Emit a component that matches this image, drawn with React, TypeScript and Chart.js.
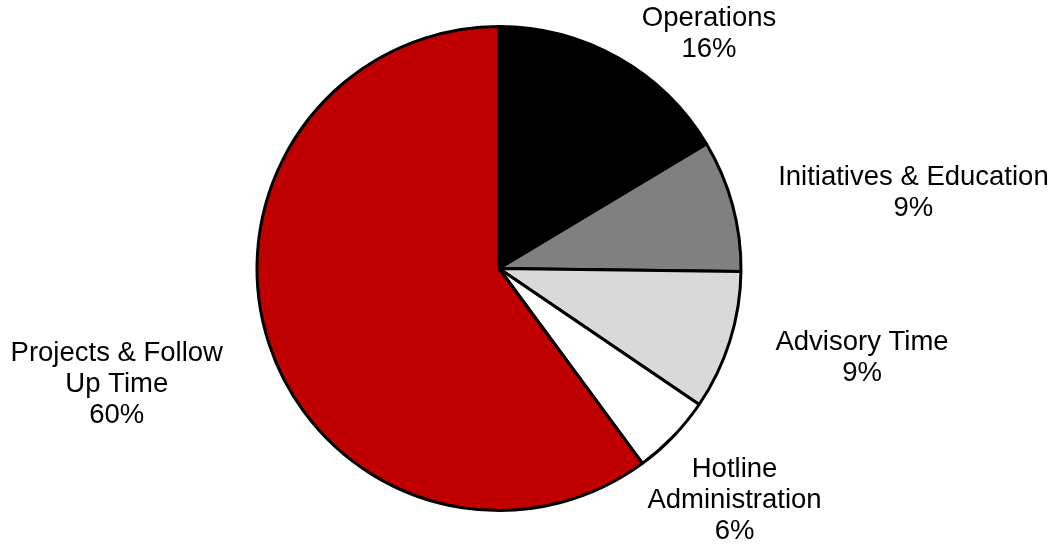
import React, { useEffect, useRef } from "react";
import { Chart, registerables } from "chart.js";

Chart.register(...registerables);

// ---- data ----
const categoryLines: string[][] = [
  ["Operations"],
  ["Initiatives & Education"],
  ["Advisory Time"],
  ["Hotline", "Administration"],
  ["Projects & Follow", "Up Time"],
];
const shares: number[] = [16.4, 8.8, 9.3, 5.4, 60.1];
const percentLabels: string[] = ["16%", "9%", "9%", "6%", "60%"];
const sliceColors: string[] = ["#000000", "#808080", "#D9D9D9", "#FFFFFF", "#C00000"];

const outsideLabels = {
  id: "outsideLabels",
  afterDatasetsDraw(chart: any, _args: any, opts: any) {
    const { ctx } = chart;
    const meta = chart.getDatasetMeta(0);
    ctx.save();
    ctx.font = `${opts.size}px ${opts.family}`;
    ctx.fillStyle = opts.color;
    ctx.textAlign = "center";
    ctx.textBaseline = "middle";
    meta.data.forEach((el: any, i: number) => {
      const { x, y, startAngle, endAngle, outerRadius } = el.getProps(
        ["x", "y", "startAngle", "endAngle", "outerRadius"],
        true
      );
      const mid = (startAngle + endAngle) / 2;
      const ux = Math.cos(mid);
      const uy = Math.sin(mid);
      const lines = [...categoryLines[i], percentLabels[i]];
      const w = Math.max(...lines.map((l) => ctx.measureText(l).width));
      const h = lines.length * opts.lineHeight;
      const r = outerRadius + opts.gap;
      let cx = x + ux * r + (ux * w) / 2;
      let cy = y + uy * r + (uy * h) / 2;
      cx = Math.min(Math.max(cx, w / 2), chart.width - w / 2);
      cy = Math.min(Math.max(cy, h / 2), chart.height - h / 2);
      const n = (opts.nudges && opts.nudges[i]) || [0, 0];
      cx += n[0];
      cy += n[1];
      lines.forEach((l, k) => {
        ctx.fillText(l, cx, cy + (k - (lines.length - 1) / 2) * opts.lineHeight);
      });
    });
    ctx.restore();
  },
};

export default function App() {
  const canvasRef = useRef<HTMLCanvasElement | null>(null);

  useEffect(() => {
    if (!canvasRef.current) return;
    const chart = new Chart(canvasRef.current, {
      type: "pie",
      data: {
        labels: categoryLines.map((l) => l.join(" ")),
        datasets: [
          {
            data: shares,
            backgroundColor: sliceColors,
            borderColor: "#000000",
            borderWidth: 3,
            hoverOffset: 0,
            offset: 0,
          },
        ],
      },
      options: {
        responsive: false,
        animation: false,
        events: [],
        layout: { padding: { left: 0, right: 58, top: 25, bottom: 34 } },
        plugins: {
          legend: { display: false },
          tooltip: { enabled: false },
          outsideLabels: {
            size: 27.5,
            family: '"Liberation Sans", Arial, sans-serif',
            color: "#000000",
            lineHeight: 31,
            gap: 52,
            nudges: [
              [32, 3],
              [0, 9],
              [0, -8],
              [-39, 1],
              [-2, 10],
            ],
          },
        } as any,
      },
      plugins: [outsideLabels],
    });
    return () => chart.destroy();
  }, []);

  return (
    <div style={{ position: "fixed", left: 0, top: 0, width: 1056, height: 546, background: "#ffffff" }}>
      <canvas ref={canvasRef} width={1056} height={546} style={{ width: 1056, height: 546, display: "block" }} />
    </div>
  );
}
